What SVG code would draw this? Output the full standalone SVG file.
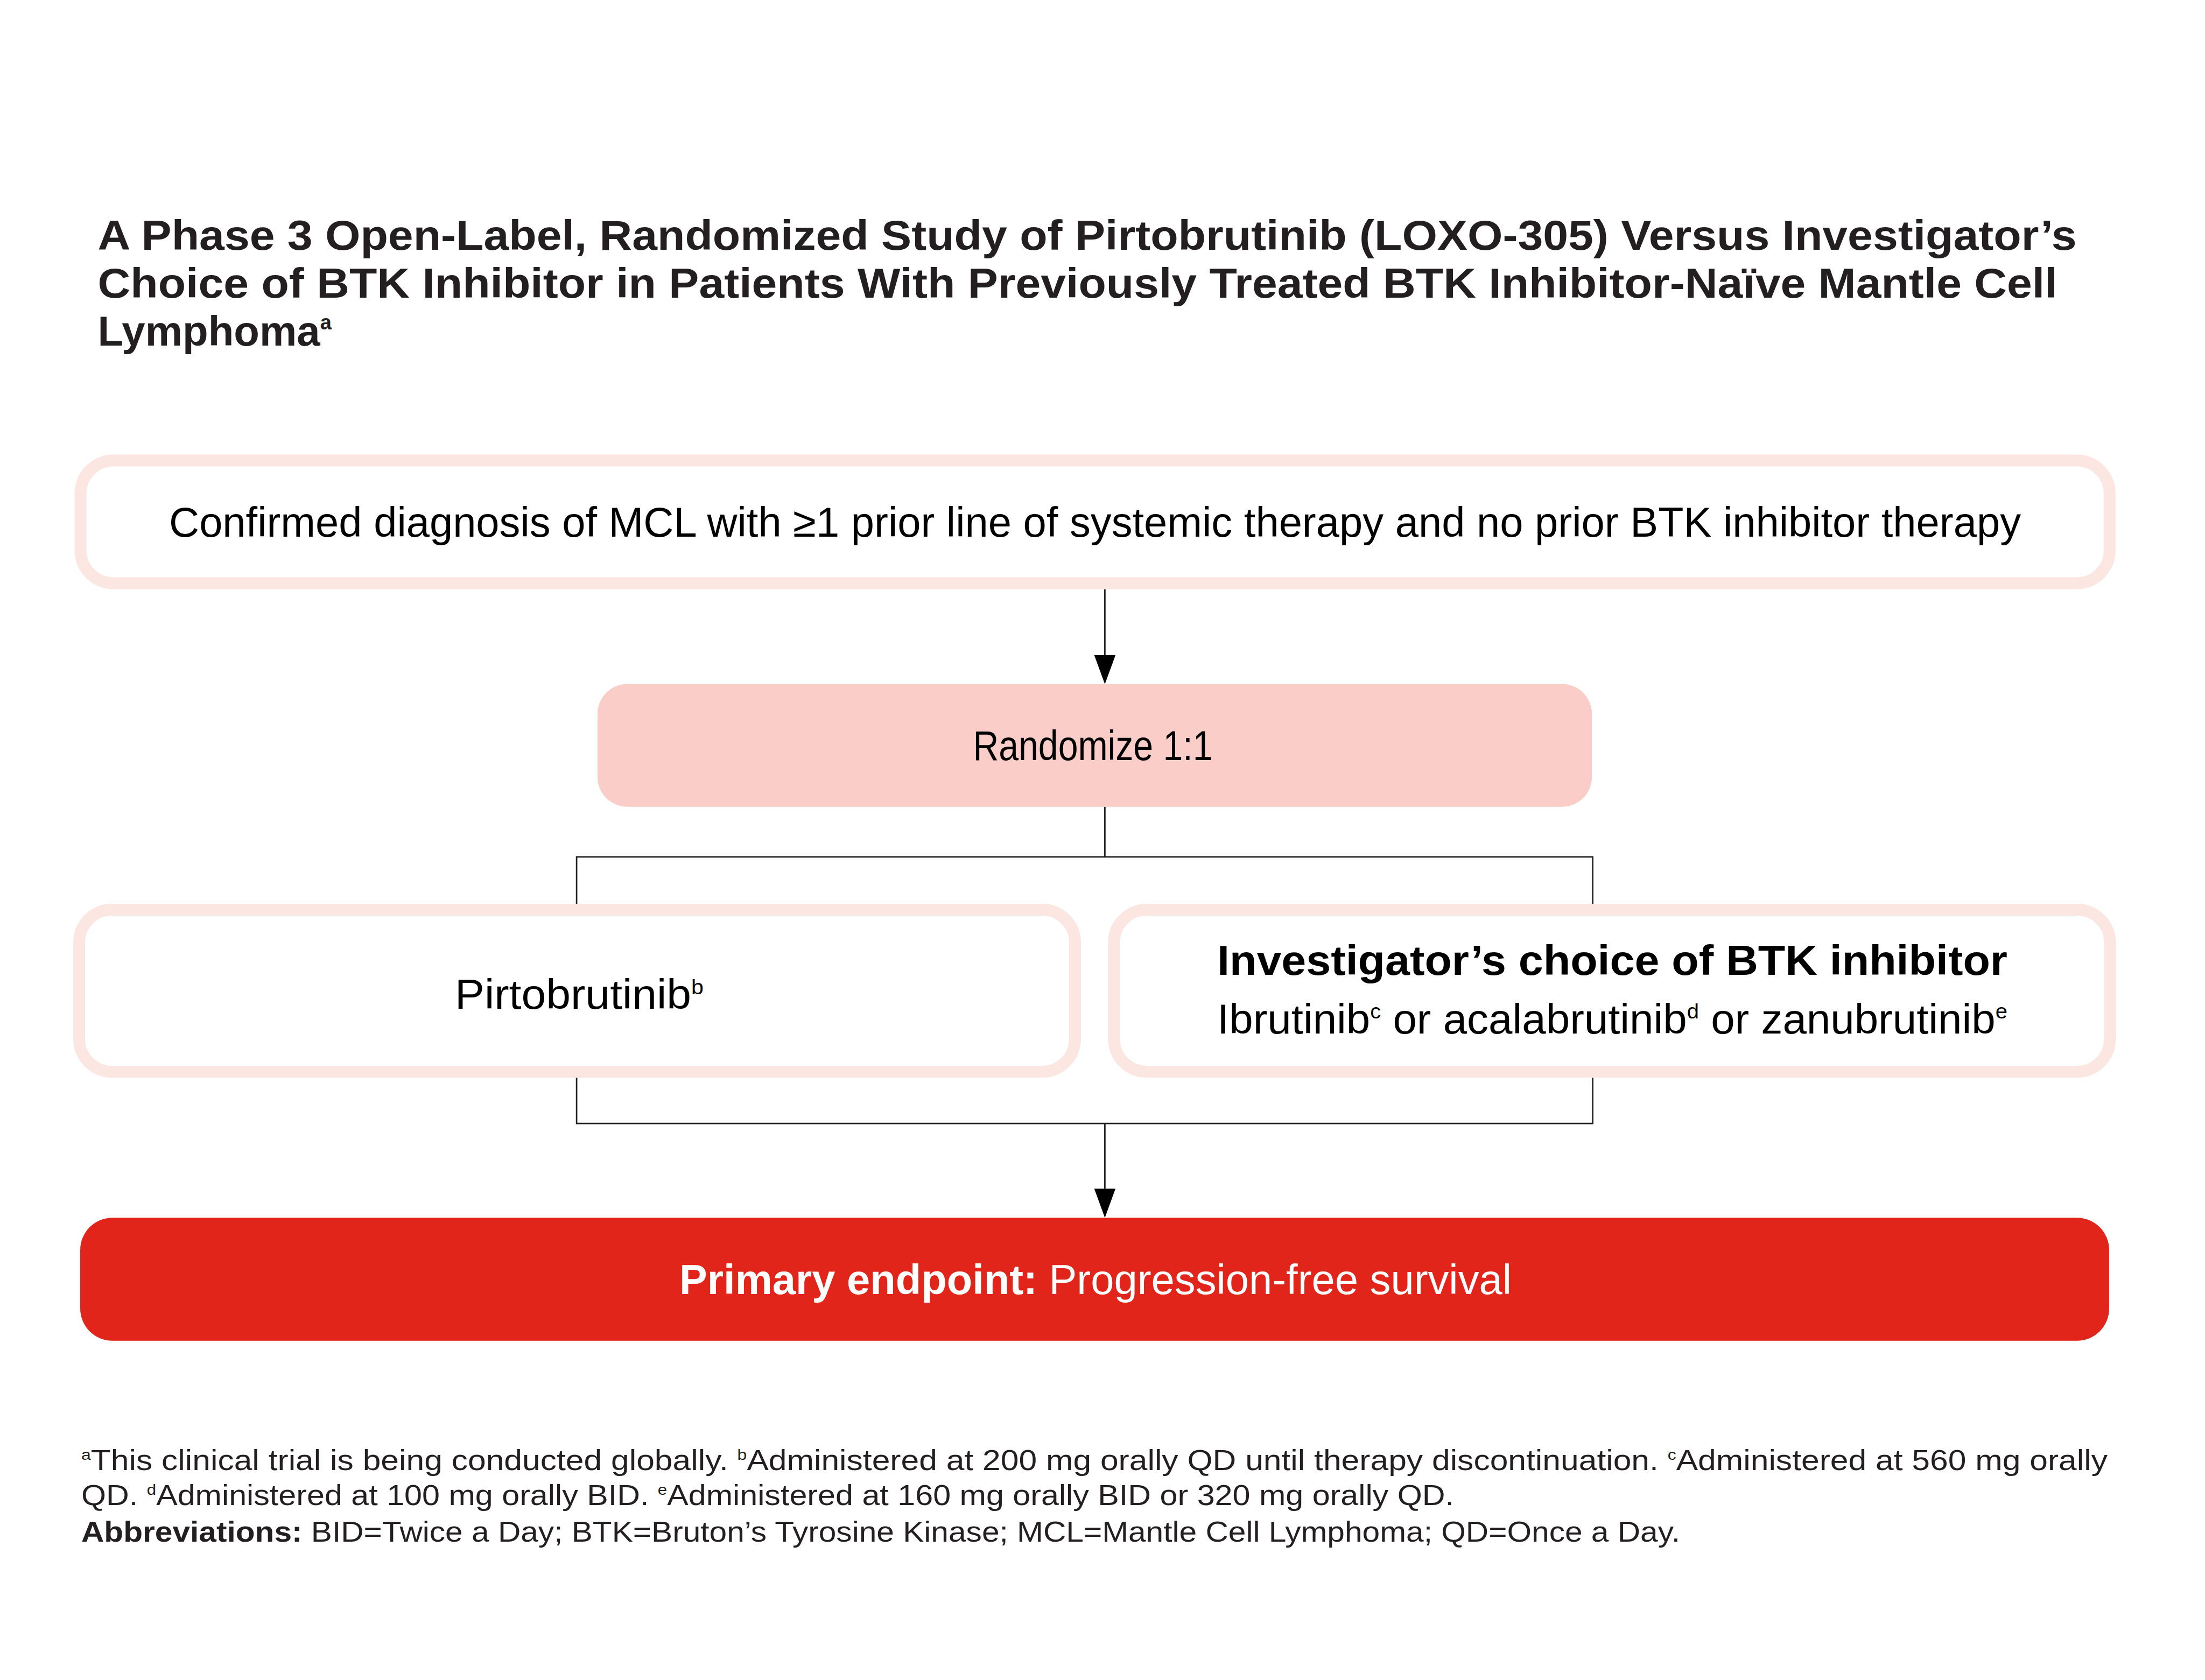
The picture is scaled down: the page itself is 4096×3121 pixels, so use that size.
<svg xmlns="http://www.w3.org/2000/svg" width="4096" height="3121" viewBox="0 0 4096 3121">
<style>
text{font-family:"Liberation Sans",Arial,sans-serif;}
.title{font-size:78px;font-weight:bold;fill:#231F20;}
.box{fill:#FFFFFF;stroke:#FCE6E2;stroke-width:22;}
.lbl{font-size:78px;fill:#000000;}
.b{font-weight:bold;}
.fn{font-size:53px;fill:#231F20;}
.conn{fill:none;stroke:#231F20;stroke-width:2.7;}
</style>
<defs>
<marker id="arrow" markerUnits="userSpaceOnUse" markerWidth="56" markerHeight="42" refX="0" refY="21" orient="auto" viewBox="0 0 56 42">
<path d="M0,1.25 L54,21 L0,40.75 Z" fill="#000000"/>
</marker>
</defs>
<rect x="0" y="0" width="4096" height="3121" fill="#FFFFFF"/>
<g id="title">
<text class="title" x="181.6" y="463.8" textLength="3676" lengthAdjust="spacingAndGlyphs">A Phase 3 Open-Label, Randomized Study of Pirtobrutinib (LOXO-305) Versus Investigator’s</text>
<text class="title" x="181.6" y="553" textLength="3640" lengthAdjust="spacingAndGlyphs">Choice of BTK Inhibitor in Patients With Previously Treated BTK Inhibitor-Naïve Mantle Cell</text>
<text class="title" x="181.6" y="641.5">Lymphoma<tspan font-size="38" dy="-30">a</tspan></text>
</g>
<g id="connectors">
<path class="conn" d="M2052.4,1094.5 V1217" marker-end="url(#arrow)"/>
<path class="conn" d="M2052.4,1498.7 V1591.9 M1071.1,1679 V1591.9 H2958.6 V1679"/>
<path class="conn" d="M1071.1,2002 V2087.2 H2958.6 V2002 M2052.4,2087.2"/>
<path class="conn" d="M2052.4,2087.2 V2208.2" marker-end="url(#arrow)"/>
</g>
<g id="node-eligibility">
<rect class="box" x="149.7" y="855.5" width="3769.1" height="228" rx="61" ry="61"/>
<text class="lbl" x="2034" y="996.7" text-anchor="middle" textLength="3440" lengthAdjust="spacingAndGlyphs">Confirmed diagnosis of MCL with ≥1 prior line of systemic therapy and no prior BTK inhibitor therapy</text>
</g>
<g id="node-randomize">
<rect x="1110" y="1270.8" width="1847" height="227.9" rx="55" ry="55" fill="#FACDC8"/>
<text class="lbl" x="2030" y="1411.6" text-anchor="middle" textLength="445" lengthAdjust="spacingAndGlyphs">Randomize 1:1</text>
</g>
<g id="node-pirtobrutinib">
<rect class="box" x="147" y="1690" width="1850" height="301" rx="61" ry="61"/>
<text class="lbl" x="845" y="1874" textLength="462" lengthAdjust="spacingAndGlyphs">Pirtobrutinib<tspan font-size="39" dy="-27.5">b</tspan></text>
</g>
<g id="node-investigator">
<rect class="box" x="2069.4" y="1690" width="1850" height="301" rx="61" ry="61"/>
<text class="lbl b" x="2261" y="1811" textLength="1468" lengthAdjust="spacingAndGlyphs">Investigator’s choice of BTK inhibitor</text>
<text class="lbl" x="2261" y="1919.6" textLength="1468" lengthAdjust="spacingAndGlyphs">Ibrutinib<tspan font-size="39" dy="-27.5">c</tspan><tspan dy="27.5"> or acalabrutinib</tspan><tspan font-size="39" dy="-27.5">d</tspan><tspan dy="27.5"> or zanubrutinib</tspan><tspan font-size="39" dy="-27.5">e</tspan></text>
</g>
<g id="node-endpoint">
<rect x="149" y="2262.2" width="3769" height="228.6" rx="60" ry="60" fill="#E1251B"/>
<text class="lbl" x="1262" y="2404" fill="#FFFFFF" style="fill:#FFFFFF" textLength="1546" lengthAdjust="spacingAndGlyphs"><tspan class="b">Primary endpoint:</tspan> Progression-free survival</text>
</g>
<g id="footnotes">
<text class="fn" x="151" y="2731" textLength="3764" lengthAdjust="spacingAndGlyphs"><tspan font-size="28" dy="-19">a</tspan><tspan dy="19">This clinical trial is being conducted globally. </tspan><tspan font-size="28" dy="-19">b</tspan><tspan dy="19">Administered at 200 mg orally QD until therapy discontinuation. </tspan><tspan font-size="28" dy="-19">c</tspan><tspan dy="19">Administered at 560 mg orally</tspan></text>
<text class="fn" x="151" y="2796" textLength="2550" lengthAdjust="spacingAndGlyphs">QD. <tspan font-size="28" dy="-19">d</tspan><tspan dy="19">Administered at 100 mg orally BID. </tspan><tspan font-size="28" dy="-19">e</tspan><tspan dy="19">Administered at 160 mg orally BID or 320 mg orally QD.</tspan></text>
<text class="fn" x="151" y="2864" textLength="2970" lengthAdjust="spacingAndGlyphs"><tspan class="b">Abbreviations:</tspan> BID=Twice a Day; BTK=Bruton’s Tyrosine Kinase; MCL=Mantle Cell Lymphoma; QD=Once a Day.</text>
</g>
</svg>
